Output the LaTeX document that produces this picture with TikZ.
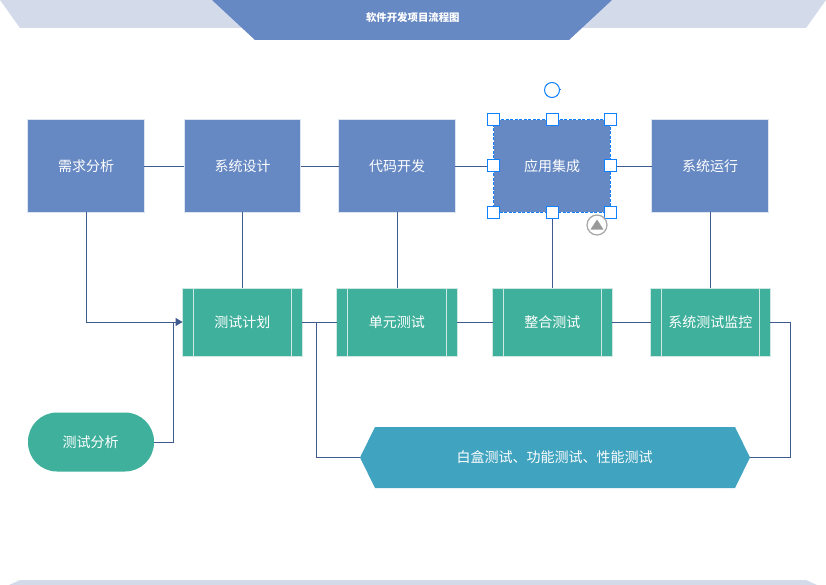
\documentclass[tikz,border=0pt]{standalone}
\usepackage{fontspec}
\setmainfont{Noto Sans CJK SC}
\definecolor{bluebox}{HTML}{6688C3}
\definecolor{greenbox}{HTML}{3EB09B}
\definecolor{tealbox}{HTML}{40A3BF}
\definecolor{lightband}{HTML}{D3DAEA}
\definecolor{wire}{HTML}{3F5A8D}
\definecolor{handleblue}{HTML}{0F80FF}
\definecolor{stripe}{HTML}{CFE8E2}
\definecolor{edgeblue}{HTML}{DDE5F2}
\usetikzlibrary{arrows.meta}
\tikzset{
  every node/.style={inner sep=0pt,outer sep=0pt},
  stepbox/.style={rectangle,fill=bluebox,draw=edgeblue,line width=0.7pt,text=white,font=\fontsize{14}{16}\selectfont,minimum width=116.5pt,minimum height=92.5pt},
  testbox/.style={rectangle,fill=greenbox,draw=stripe,line width=0.9pt,text=white,font=\fontsize{14}{16}\selectfont,minimum width=119.5pt,minimum height=68pt},
  stripeline/.style={draw=stripe,line width=0.9pt},
  wireline/.style={draw=wire,line width=0.9pt},
  handle/.style={rectangle,fill=white,draw=handleblue,line width=1pt,minimum width=12pt,minimum height=12pt},
}
\begin{document}
\begin{tikzpicture}[x=1pt,y=-1pt]
\useasboundingbox (0,0) rectangle (826,585);
% header and footer bands
\fill[lightband] (0,0) -- (20,28) -- (806,28) -- (826,0) -- cycle;
\fill[bluebox] (212,0) -- (255,40) -- (569,40) -- (612,0) -- cycle;
\fill[lightband] (20,580) -- (806,580) -- (817,585) -- (9,585) -- cycle;
\node[text=white,font=\fontsize{10.4}{12}\selectfont\bfseries] (title) at (412.8,17.5) {软件开发项目流程图};
% process boxes
\node[stepbox] (req) at (86,166) {需求分析};
\node[stepbox] (design) at (242.5,166) {系统设计};
\node[stepbox] (code) at (397,166) {代码开发};
\node[stepbox] (run) at (710,166) {系统运行};
\node[stepbox,minimum width=117pt,minimum height=93pt,draw=white,line width=1.2pt] (integ) at (552,166) {应用集成};
% test boxes
\node[testbox] (plan) at (242.3,322) {测试计划};
\node[testbox,minimum height=67.5pt,minimum width=120.5pt] (unit) at (396.8,322.2) {单元测试};
\node[testbox] (merge) at (552.3,322) {整合测试};
\node[testbox] (monitor) at (710.3,322) {系统测试监控};
\foreach \n in {plan,unit,merge,monitor}{
  \draw[stripeline] ([xshift=11pt]\n.north west) -- ([xshift=11pt]\n.south west);
  \draw[stripeline] ([xshift=-11pt]\n.north east) -- ([xshift=-11pt]\n.south east);
}
% pill and hexagon
\node[rectangle,rounded corners=29pt,fill=greenbox,text=white,font=\fontsize{14}{16}\selectfont,minimum width=126pt,minimum height=59pt] (analysis) at (91,442) {\hspace*{-1pt}测试分析};
\fill[tealbox] (360,457.5) -- (375,427) -- (735,427) -- (750,457.5) -- (735,488) -- (375,488) -- cycle;
\node[text=white,font=\fontsize{14}{16}\selectfont,minimum width=390pt,minimum height=61pt] (kinds) at (555,457.5) {\hspace*{-1pt}白盒测试、功能测试、性能测试};
% connectors
\draw[wireline] (req.east) -- (design.west);
\draw[wireline] (design.east) -- (code.west);
\draw[wireline] (code.east) -- (integ.west);
\draw[wireline] (integ.east) -- (run.west);
\draw[wireline] (design.south) -- (design.south |- plan.north);
\draw[wireline] (code.south) -- (code.south |- unit.north);
\draw[wireline] (integ.south) -- (integ.south |- merge.north);
\draw[wireline] (run.south) -- (run.south |- monitor.north);
\draw[wireline] (plan.east) -- (plan.east -| unit.west);
\draw[wireline] (plan.east -| unit.east) -- (plan.east -| merge.west);
\draw[wireline] (merge.east) -- (monitor.west);
\draw[wireline,-{Triangle[length=7pt,width=8pt]}] (req.south) |- (plan.west);
\coordinate (joinup) at (173,322);
\draw[wireline] (analysis.east) -| (joinup);
\coordinate (branch) at (316.7,322);
\draw[wireline] (branch) |- (kinds.west);
\draw[wireline] (monitor.east) -- ++(20,0) |- (kinds.east);
% selection outline and handles
\draw[handleblue,line width=1.2pt,dash pattern=on 3pt off 1.5pt] (integ.north west) rectangle (integ.south east);
\foreach \a/\p in {hnw/north west,hn/north,hne/north east,hw/west,he/east,hsw/south west,hs/south,hse/south east}{
  \node[handle] (\a) at (integ.\p) {};
}
\node[circle,draw=handleblue,line width=1pt,fill=white,minimum size=15pt] (rot) at (552,90) {};
\draw[handleblue,line width=1pt] (rot.east) -- ++(1.5,0);
\node[circle,draw=black!35,line width=1.2pt,fill=white,minimum size=20pt] (flip) at (597,225) {};
\fill[black!40] (597,219.5) -- (603.5,229.5) -- (590.5,229.5) -- cycle;
\end{tikzpicture}
\end{document}
